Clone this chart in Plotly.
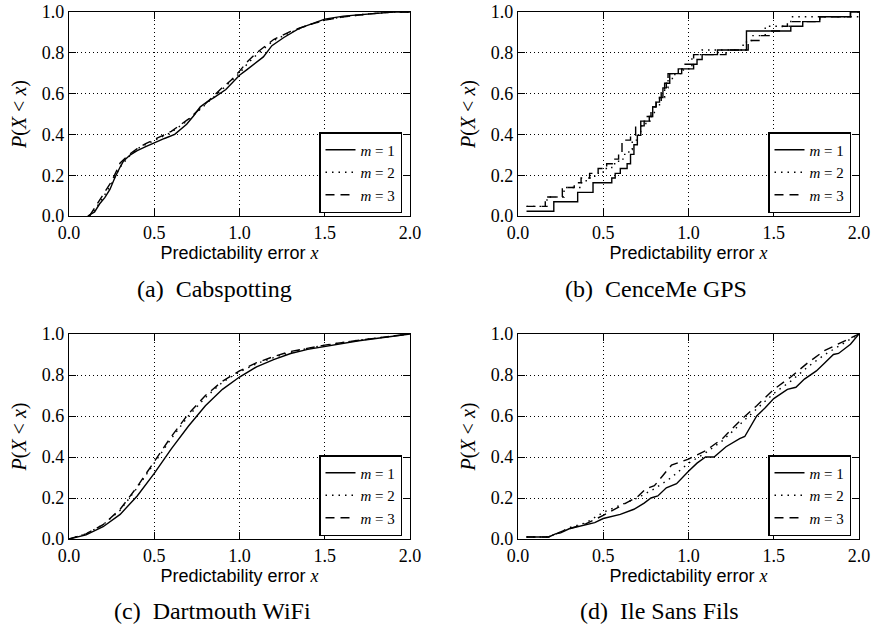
import plotly.graph_objects as go

# ---------------- data ----------------
# (a) Cabspotting
xa1 = [0.11, 0.15, 0.18, 0.21, 0.24, 0.27, 0.30, 0.32, 0.36, 0.40, 0.45, 0.50, 0.56, 0.62, 0.69, 0.73, 0.77, 0.81, 0.85, 0.92, 1.00, 1.04, 1.08, 1.14, 1.19, 1.26, 1.35, 1.43, 1.50, 1.61, 1.75, 1.90, 2.00]
ya1 = [0.00, 0.02, 0.06, 0.09, 0.13, 0.19, 0.24, 0.27, 0.30, 0.32, 0.34, 0.36, 0.38, 0.40, 0.45, 0.49, 0.535, 0.56, 0.58, 0.62, 0.69, 0.715, 0.74, 0.78, 0.835, 0.875, 0.92, 0.945, 0.965, 0.98, 0.99, 1.00, 1.00]
xa2 = [0.12, 0.15, 0.20, 0.25, 0.30, 0.35, 0.40, 0.45, 0.50, 0.60, 0.70, 0.80, 0.90, 0.95, 1.00, 1.05, 1.10, 1.20, 1.30, 1.40, 1.50, 1.60, 1.75, 1.90, 2.00]
ya2 = [0.00, 0.03, 0.09, 0.16, 0.24, 0.29, 0.33, 0.35, 0.37, 0.41, 0.47, 0.545, 0.62, 0.66, 0.70, 0.75, 0.79, 0.86, 0.90, 0.935, 0.96, 0.975, 0.99, 1.00, 1.00]
xa3 = [0.12, 0.15, 0.20, 0.25, 0.30, 0.35, 0.40, 0.45, 0.50, 0.60, 0.70, 0.80, 0.90, 0.95, 1.00, 1.05, 1.10, 1.20, 1.30, 1.40, 1.50, 1.60, 1.75, 1.90, 2.00]
ya3 = [0.00, 0.04, 0.10, 0.17, 0.26, 0.30, 0.33, 0.355, 0.375, 0.415, 0.475, 0.55, 0.63, 0.665, 0.71, 0.76, 0.80, 0.865, 0.905, 0.935, 0.96, 0.975, 0.99, 1.00, 1.00]

# (b) CenceMe GPS (step CDFs)
xb1 = [0.05, 0.21, 0.35, 0.44, 0.55, 0.57, 0.60, 0.64, 0.66, 0.68, 0.70, 0.72, 0.74, 0.77, 0.79, 0.81, 0.83, 0.85, 0.87, 0.89, 0.96, 1.03, 1.05, 1.08, 1.17, 1.34, 1.60, 1.67, 1.77, 1.95, 2.00]
yb1 = [0.023, 0.070, 0.116, 0.163, 0.186, 0.209, 0.233, 0.256, 0.302, 0.349, 0.395, 0.442, 0.465, 0.488, 0.535, 0.558, 0.581, 0.628, 0.651, 0.698, 0.721, 0.744, 0.767, 0.791, 0.814, 0.907, 0.930, 0.953, 0.977, 1.000, 1.000]
xb2 = [0.05, 0.17, 0.27, 0.37, 0.40, 0.45, 0.50, 0.55, 0.59, 0.62, 0.65, 0.67, 0.70, 0.72, 0.75, 0.78, 0.80, 0.83, 0.86, 0.88, 0.92, 0.97, 1.02, 1.08, 1.31, 1.34, 1.37, 1.45, 1.60, 1.98, 2.00]
yb2 = [0.047, 0.093, 0.140, 0.163, 0.186, 0.209, 0.233, 0.256, 0.279, 0.302, 0.326, 0.372, 0.395, 0.442, 0.465, 0.488, 0.535, 0.581, 0.628, 0.674, 0.698, 0.721, 0.791, 0.814, 0.837, 0.860, 0.884, 0.930, 0.977, 0.977, 0.977]
xb3 = [0.05, 0.16, 0.26, 0.33, 0.37, 0.42, 0.47, 0.52, 0.56, 0.59, 0.61, 0.66, 0.69, 0.72, 0.75, 0.78, 0.81, 0.84, 0.86, 0.88, 0.94, 0.98, 1.03, 1.22, 1.35, 1.42, 1.48, 1.55, 1.58, 1.77, 1.95, 2.00]
yb3 = [0.047, 0.093, 0.140, 0.163, 0.186, 0.209, 0.233, 0.256, 0.279, 0.302, 0.372, 0.395, 0.442, 0.465, 0.488, 0.535, 0.558, 0.605, 0.651, 0.698, 0.721, 0.744, 0.791, 0.814, 0.860, 0.884, 0.907, 0.930, 0.953, 0.977, 1.000, 1.000]

# (c) Dartmouth WiFi
xc = [0.0, 0.1, 0.2, 0.3, 0.4, 0.5, 0.6, 0.7, 0.8, 0.9, 1.0, 1.1, 1.2, 1.3, 1.4, 1.5, 1.6, 1.7, 1.8, 1.9, 2.0]
yc1 = [0.0, 0.02, 0.06, 0.12, 0.21, 0.32, 0.44, 0.55, 0.65, 0.73, 0.79, 0.84, 0.875, 0.905, 0.925, 0.94, 0.955, 0.967, 0.978, 0.99, 1.0]
yc2 = [0.0, 0.025, 0.07, 0.14, 0.25, 0.37, 0.49, 0.60, 0.69, 0.765, 0.815, 0.855, 0.885, 0.91, 0.93, 0.945, 0.958, 0.97, 0.98, 0.99, 1.0]
yc3 = [0.0, 0.025, 0.07, 0.145, 0.255, 0.38, 0.50, 0.61, 0.70, 0.77, 0.82, 0.86, 0.89, 0.915, 0.932, 0.946, 0.958, 0.97, 0.98, 0.99, 1.0]

# (d) Ile Sans Fils
xd1 = [0.05, 0.18, 0.22, 0.25, 0.30, 0.35, 0.40, 0.45, 0.50, 0.60, 0.68, 0.74, 0.78, 0.82, 0.87, 0.93, 1.00, 1.05, 1.10, 1.15, 1.22, 1.30, 1.33, 1.40, 1.45, 1.50, 1.58, 1.63, 1.68, 1.75, 1.80, 1.85, 1.88, 1.95, 2.00]
yd1 = [0.01, 0.01, 0.025, 0.03, 0.05, 0.06, 0.07, 0.08, 0.10, 0.12, 0.145, 0.175, 0.20, 0.21, 0.25, 0.27, 0.33, 0.37, 0.40, 0.40, 0.45, 0.49, 0.50, 0.60, 0.64, 0.685, 0.73, 0.74, 0.78, 0.82, 0.86, 0.90, 0.905, 0.95, 1.00]
xd2 = [0.05, 0.18, 0.25, 0.30, 0.40, 0.50, 0.60, 0.70, 0.80, 0.90, 1.00, 1.10, 1.20, 1.30, 1.40, 1.50, 1.60, 1.70, 1.80, 1.90, 2.00]
yd2 = [0.01, 0.01, 0.035, 0.055, 0.08, 0.13, 0.165, 0.20, 0.245, 0.30, 0.37, 0.42, 0.48, 0.56, 0.635, 0.71, 0.77, 0.84, 0.90, 0.95, 1.00]
xd3 = [0.05, 0.18, 0.25, 0.30, 0.40, 0.50, 0.60, 0.70, 0.75, 0.80, 0.85, 0.90, 1.00, 1.10, 1.20, 1.30, 1.40, 1.50, 1.60, 1.70, 1.80, 1.90, 2.00]
yd3 = [0.01, 0.01, 0.035, 0.05, 0.075, 0.115, 0.16, 0.205, 0.245, 0.26, 0.31, 0.36, 0.39, 0.43, 0.49, 0.575, 0.65, 0.73, 0.79, 0.86, 0.92, 0.96, 1.00]

series_names = ["<i>m</i> = 1", "<i>m</i> = 2", "<i>m</i> = 3"]
captions = ["(a)  Cabspotting", "(b)  CenceMe GPS", "(c)  Dartmouth WiFi", "(d)  Ile Sans Fils"]
tick_vals_x = [0.0, 0.5, 1.0, 1.5, 2.0]
tick_vals_y = [0.0, 0.2, 0.4, 0.6, 0.8, 1.0]
tick_text_x = ["0.0", "0.5", "1.0", "1.5", "2.0"]
tick_text_y = ["0.0", "0.2", "0.4", "0.6", "0.8", "1.0"]

# ---------------- figure ----------------
W, H = 872, 631
SERIF = "Liberation Serif"
SANS = "Liberation Sans"

panels = [
    dict(data=[(xa1, ya1), (xa2, ya2), (xa3, ya3)], shape="linear", px=(69, 410), py=(12, 216)),
    dict(data=[(xb1, yb1), (xb2, yb2), (xb3, yb3)], shape="hv", px=(518, 859), py=(12, 216)),
    dict(data=[(xc, yc1), (xc, yc2), (xc, yc3)], shape="linear", px=(69, 410), py=(334, 539)),
    dict(data=[(xd1, yd1), (xd2, yd2), (xd3, yd3)], shape="linear", px=(518, 859), py=(334, 539)),
]
dashes = ["solid", "1.5px,5px", "9px,6px"]
caption_pos = [(214, 289), (656, 289), (212, 611), (659, 611)]

fig = go.Figure()
layout = dict(
    width=W, height=H,
    margin=dict(l=0, r=0, t=0, b=0),
    paper_bgcolor="white", plot_bgcolor="white",
    showlegend=True,
)
annotations = []

for i, p in enumerate(panels):
    sfx = "" if i == 0 else str(i + 1)
    xa_name, ya_name = "xaxis" + sfx, "yaxis" + sfx
    leg_name = "legend" + sfx
    for j, (xs, ys) in enumerate(p["data"]):
        fig.add_trace(go.Scatter(
            x=xs, y=ys, mode="lines", name=series_names[j],
            line=dict(color="black", width=1.4, dash=dashes[j], shape=p["shape"]),
            xaxis="x" + sfx, yaxis="y" + sfx, legend=leg_name,
            hoverinfo="skip",
        ))
    x0, x1 = p["px"]
    y0, y1 = p["py"]
    common = dict(
        showline=True, linecolor="black", linewidth=1.3, mirror="ticks",
        ticks="inside", ticklen=7, tickcolor="black", tickwidth=1,
        showgrid=True, gridcolor="black", gridwidth=0.9, griddash="1px,3px",
        zeroline=False, tickfont=dict(family=SERIF, size=18, color="black"),
        automargin=False, ticklabeloverflow="allow",
    )
    layout[xa_name] = dict(
        common, domain=[x0 / W, x1 / W], range=[0, 2], anchor="y" + sfx,
        tickvals=tick_vals_x, ticktext=tick_text_x,
        title=dict(text="Predictability error <span style='font-family:Liberation Serif'><i>x</i></span>",
                   font=dict(family=SANS, size=18, color="black"), standoff=3),
    )
    layout[ya_name] = dict(
        common, domain=[1 - y1 / H, 1 - y0 / H], range=[0, 1], anchor="x" + sfx,
        tickvals=tick_vals_y, ticktext=tick_text_y,
        title=dict(text="<i>P</i>(<i>X</i> &lt; <i>x</i>)",
                   font=dict(family=SERIF, size=20, color="black"), standoff=9),
    )
    layout[leg_name] = dict(
        x=(x1 - 8) / W, y=1 - (y1 - 3) / H, xanchor="right", yanchor="bottom",
        xref="paper", yref="paper",
        bgcolor="white", bordercolor="black", borderwidth=1.5,
        font=dict(family=SERIF, size=15, color="black"),
        itemwidth=30, tracegroupgap=0,
    )
    cx, cy = caption_pos[i]
    annotations.append(dict(
        x=cx / W, y=1 - cy / H, xref="paper", yref="paper",
        text=captions[i], showarrow=False, xanchor="center", yanchor="middle",
        font=dict(family=SERIF, size=24, color="black"),
    ))

layout["annotations"] = annotations
fig.update_layout(**layout)
fig.write_html(
    "out.html",
    config={"displayModeBar": False},
    post_script="document.body.style.margin='0';document.body.style.padding='0';",
)
